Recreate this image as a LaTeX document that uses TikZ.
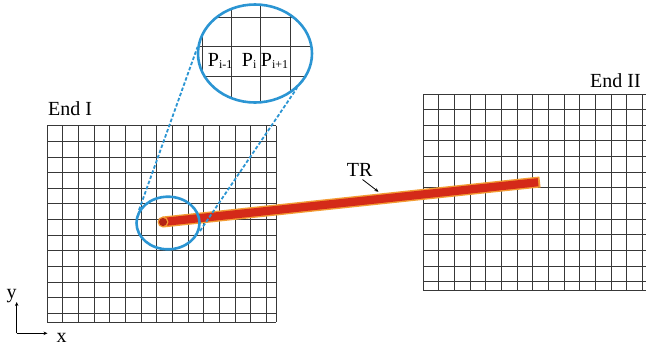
\documentclass[tikz,border=0pt]{standalone}
\usepackage{fontspec}
\setmainfont{Liberation Serif}
\usetikzlibrary{arrows.meta,shapes.geometric,calc}
\definecolor{gridc}{HTML}{383838}
\definecolor{lensblue}{HTML}{2B95D3}
\definecolor{rodred}{HTML}{D42A18}
\definecolor{rodorange}{HTML}{F39C34}
\tikzset{
  gridline/.style={draw=gridc, line width=1pt},
  lens/.style={draw=lensblue, line width=2.6pt, ellipse, inner sep=0pt},
  lensdash/.style={draw=lensblue, line width=1.8pt, dash pattern=on 3.5pt off 2pt},
  lbl/.style={font=\fontsize{20}{20}\selectfont, inner sep=0pt},
  plbl/.style={font=\fontsize{20}{20}\selectfont, inner sep=0pt},
}
\newcommand{\subsc}[1]{{\fontsize{12}{12}\selectfont\raisebox{-2pt}{#1}}}
\begin{document}
\begin{tikzpicture}[x=1pt,y=-1pt]
\useasboundingbox (0,0) rectangle (646,346);
\clip (0,0) rectangle (646,346);
\fill[white] (0,0) rectangle (646,346);
% End I grid
\foreach \k in {0,...,14} \draw[gridline] ({47.3+15.65*\k},125.7) -- ({47.3+15.65*\k},322);
\draw[gridline] (276,125.7) -- (276,322);
\foreach \k in {0,...,12} \draw[gridline] (47.3,{125.7+15.65*\k}) -- (276,{125.7+15.65*\k});
\draw[gridline] (47.3,322) -- (276,322);
% End II grid
\foreach \k in {0,...,14} \draw[gridline] ({423.3+15.65*\k},94) -- ({423.3+15.65*\k},290);
\draw[gridline] (652,94) -- (652,290);
\foreach \k in {0,...,12} \draw[gridline] (423.3,{94+15.65*\k}) -- (652,{94+15.65*\k});
\draw[gridline] (423.3,290) -- (652,290);
% labels
\node[lbl, anchor=base west] (end1) at (48,115) {End I};
\node[lbl, anchor=base west] (end2) at (590,87.3) {End II};
% rod
\coordinate (rodA) at (163,222);
\coordinate (rodB) at (540,182);
\draw[rodorange, line width=11pt] (rodA) -- (rodB);
\draw[rodred, line width=8.2pt] (rodA) -- ($(rodA)!0.995!(rodB)$);
\fill[rodorange] (rodA) circle (5.5);
\fill[rodred!85!black] (rodA) circle (4.1);
% TR label
\node[lbl, anchor=base west] (tr) at (346.7,176.7) {TR};
\coordinate (trtip) at (378.5,191.8);
\draw[black, line width=0.8pt, -{Stealth[length=4pt,width=3.5pt]}] (362.5,179.5) -- (trtip);
% small lens
\node[lens, minimum width=63pt, minimum height=52.6pt] (small) at (168,223) {};
% big lens with inner grid
\begin{scope}
\clip (255,53.5) ellipse [x radius=57, y radius=49];
\fill[white] (255,53.5) ellipse [x radius=57, y radius=49];
\foreach \xx in {173,202.3,231.7,260.7,290} \draw[gridline] (\xx,0) -- (\xx,110);
\foreach \yy in {17.3,46.7,76,105.3} \draw[gridline] (190,\yy) -- (320,\yy);
\end{scope}
\node[lens, minimum width=114pt, minimum height=98pt] (big) at (255,53.5) {};
\node[plbl, anchor=base west] (p1) at (207.7,66.7) {P\subsc{i-1}};
\node[plbl, anchor=base west] (p2) at (241.7,66.7) {P\subsc{i}};
\node[plbl, anchor=base west] (p3) at (260.7,66.7) {P\subsc{i+1}};
% dashed connectors
\coordinate (sl) at (139,210);
\coordinate (bl) at (197.5,47);
\coordinate (sr) at (200,231);
\coordinate (br) at (297,88);
\draw[lensdash] (sl) -- (bl);
\draw[lensdash] (sr) -- (br);
% axes
\coordinate (origin) at (16.7,333.3);
\coordinate (yend) at (16.7,302);
\coordinate (xend) at (47.5,333.3);
\draw[black, line width=0.8pt, -{Stealth[length=4pt,width=3.5pt]}] (origin) -- (yend);
\draw[black, line width=0.8pt, -{Stealth[length=4pt,width=3.5pt]}] (origin) -- (xend);
\node[lbl, anchor=base west] (ylab) at (6.5,298) {y};
\node[lbl, anchor=base west] (xlab) at (56.5,342.3) {x};
\end{tikzpicture}
\end{document}
